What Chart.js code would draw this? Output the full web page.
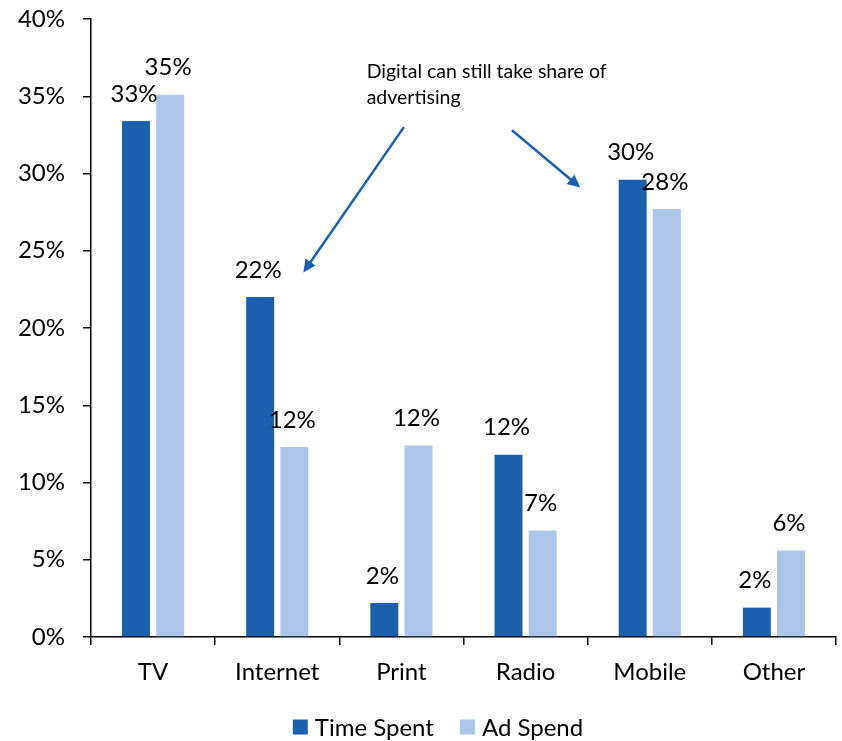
<!DOCTYPE html>
<html>
<head>
<meta charset="utf-8">
<script src="https://cdn.jsdelivr.net/npm/chart.js@4.4.1/dist/chart.umd.min.js"></script>
<style>
    html, body { margin: 0; padding: 0; background: #fff; }
    #wrap { width: 842px; height: 741px; position: relative; }
</style>
</head>
<body>
<div id="wrap"><canvas id="chart"></canvas></div>
<script>
    'use strict';

    const categories = ['TV', 'Internet', 'Print', 'Radio', 'Mobile', 'Other'];
    const timeSpent = [33.4, 22.0, 2.2, 11.8, 29.6, 1.9];
    const adSpend = [35.1, 12.3, 12.4, 6.9, 27.7, 5.6];
    const yTicks = [0, 5, 10, 15, 20, 25, 30, 35, 40];

    const FONT = 'Lato, "Open Sans", sans-serif';
    const DARK = '#1B60AD';
    const LIGHT = '#ADC5E8';

    // Callout text and its two arrows, placed in axis units (category index, percent)
    const calloutLines = ['Digital can still take share of', 'advertising'];
    const calloutAt = { x: 1.72, y: 36.6 };
    const arrows = [
        { from: [2.02, 33.0], to: [1.21, 23.6] },
        { from: [2.89, 32.8], to: [3.44, 29.1] }
    ];

    const barLabels = {
        id: 'barLabels',
        afterDatasetsDraw(chart) {
            const ctx = chart.ctx;
            ctx.save();
            ctx.font = '24px ' + FONT;
            ctx.fillStyle = '#000';
            ctx.textAlign = 'center';
            ctx.textBaseline = 'middle';
            chart.data.datasets.forEach((ds, i) => {
                chart.getDatasetMeta(i).data.forEach((bar, j) => {
                    ctx.fillText(Math.round(ds.data[j]) + '%', bar.x - 2, bar.y - 27);
                });
            });
            ctx.restore();
        }
    };

    const callout = {
        id: 'callout',
        afterDraw(chart) {
            const ctx = chart.ctx;
            const xs = chart.scales.x;
            const ys = chart.scales.y;
            const px = v => xs.getPixelForValue(v);
            const py = v => ys.getPixelForValue(v);

            ctx.save();
            ctx.font = '19.5px ' + FONT;
            ctx.fillStyle = '#000';
            ctx.textAlign = 'left';
            ctx.textBaseline = 'middle';
            calloutLines.forEach((line, k) => {
                ctx.fillText(line, px(calloutAt.x), py(calloutAt.y) + k * 26);
            });

            ctx.strokeStyle = DARK;
            ctx.fillStyle = DARK;
            ctx.lineWidth = 2.5;
            arrows.forEach(a => {
                const x1 = px(a.from[0]), y1 = py(a.from[1]);
                const x2 = px(a.to[0]), y2 = py(a.to[1]);
                const ang = Math.atan2(y2 - y1, x2 - x1);
                const head = 14, spread = 0.45;
                ctx.beginPath();
                ctx.moveTo(x1, y1);
                ctx.lineTo(x2 - Math.cos(ang) * head * 0.8, y2 - Math.sin(ang) * head * 0.8);
                ctx.stroke();
                ctx.beginPath();
                ctx.moveTo(x2, y2);
                ctx.lineTo(x2 - head * Math.cos(ang - spread), y2 - head * Math.sin(ang - spread));
                ctx.lineTo(x2 - head * Math.cos(ang + spread), y2 - head * Math.sin(ang + spread));
                ctx.closePath();
                ctx.fill();
            });
            ctx.restore();
        }
    };

    // legend row under the axis labels: square swatch + series name
    const bottomLegend = {
        id: 'bottomLegend',
        afterDraw(chart) {
            const ctx = chart.ctx;
            const box = 15, gap = 7, itemGap = 26;
            const y = chart.height - 14;
            ctx.save();
            ctx.font = '24px ' + FONT;
            ctx.textBaseline = 'middle';
            ctx.textAlign = 'left';
            const items = chart.data.datasets.map(ds => ({
                text: ds.label,
                color: ds.backgroundColor,
                w: box + gap + ctx.measureText(ds.label).width
            }));
            const total = items.reduce((s, it) => s + it.w, 0) + itemGap * (items.length - 1);
            let x = chart.width / 2 + 17 - total / 2;
            items.forEach(it => {
                ctx.fillStyle = it.color;
                ctx.fillRect(x, y - box / 2, box, box);
                ctx.fillStyle = '#000';
                ctx.fillText(it.text, x + box + gap, y + 1);
                x += it.w + itemGap;
            });
            ctx.restore();
        }
    };

    new Chart(document.getElementById('chart'), {
        type: 'bar',
        data: {
            labels: categories,
            datasets: [
                { label: 'Time Spent', data: timeSpent, backgroundColor: DARK },
                { label: 'Ad Spend', data: adSpend, backgroundColor: LIGHT }
            ]
        },
        options: {
            responsive: true,
            maintainAspectRatio: false,
            animation: false,
            categoryPercentage: 0.55,
            barPercentage: 0.82,
            layout: { padding: { left: 0, right: 6, top: 19, bottom: 0 } },
            plugins: {
                legend: { display: false },
                tooltip: { enabled: false }
            },
            scales: {
                x: {
                    afterFit: axis => { axis.height = 104; },
                    grid: {
                        display: true,
                        drawOnChartArea: false,
                        drawTicks: true,
                        tickLength: 8,
                        color: '#000',
                        lineWidth: 1.5
                    },
                    border: { display: true, color: '#000', width: 1.5 },
                    ticks: {
                        color: '#000',
                        font: { family: FONT, size: 24 },
                        padding: 13
                    }
                },
                y: {
                    min: 0,
                    max: 40,
                    afterBuildTicks: axis => {
                        axis.ticks = yTicks.map(v => ({ value: v }));
                    },
                    afterFit: axis => {
                        axis.width = 91;
                        axis.paddingTop = 0;
                        axis.paddingBottom = 0;
                    },
                    grid: {
                        display: true,
                        drawOnChartArea: false,
                        drawTicks: true,
                        tickLength: 8,
                        color: '#000',
                        lineWidth: 1.5
                    },
                    border: { display: true, color: '#000', width: 1.5 },
                    ticks: {
                        color: '#000',
                        font: { family: FONT, size: 24 },
                        padding: 18,
                        callback: v => v + '%'
                    }
                }
            }
        },
        plugins: [barLabels, callout, bottomLegend]
    });
</script>
</body>
</html>
